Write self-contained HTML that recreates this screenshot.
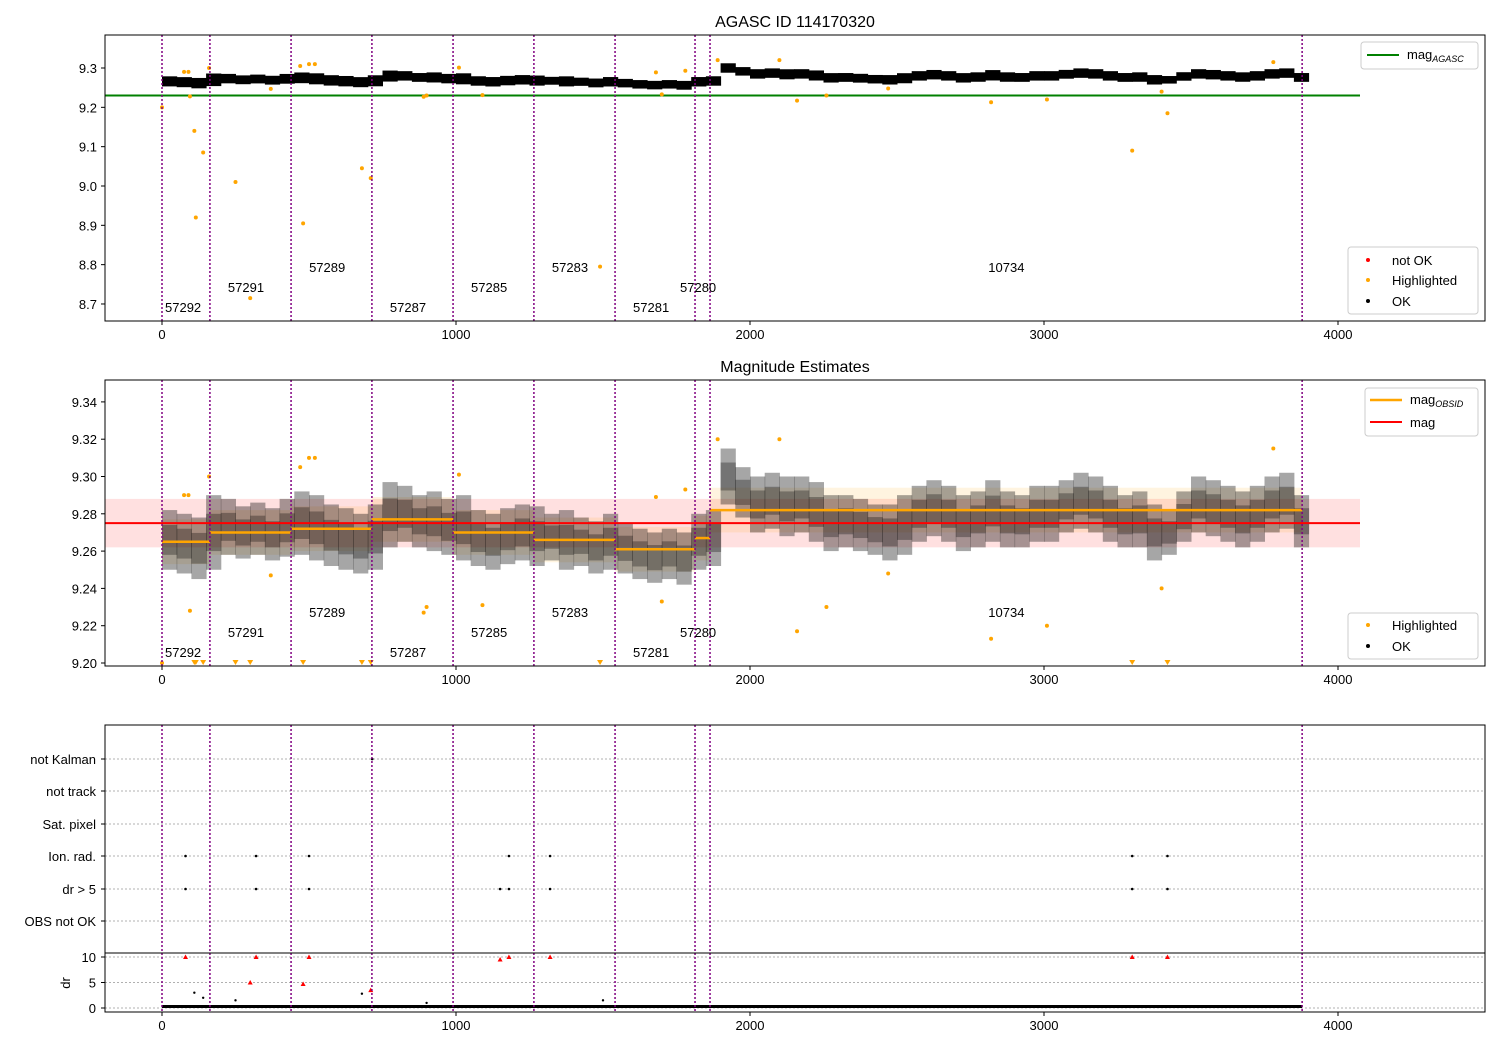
<!DOCTYPE html>
<html><head><meta charset="utf-8">
<style>
body{margin:0;background:#fff;}
svg{display:block;font-family:"Liberation Sans","DejaVu Sans",sans-serif;}
</style></head>
<body>
<svg id="chart" width="1500" height="1050" viewBox="0 0 1500 1050" xmlns="http://www.w3.org/2000/svg"></svg>
<script>
// ---------- data ----------
const sampleStep = 50;
const magLo = [9.250,9.248,9.245,9.250, 9.258,9.256,9.258,9.255,9.257, 9.258,9.255,9.252,9.250,9.248,9.250,
 9.262,9.265,9.262,9.260,9.258, 9.255,9.252,9.250,9.253,9.255,9.252, 9.255,9.250,9.252,9.248,9.250,
 9.248,9.245,9.243,9.245,9.242,9.250, 9.252,
 9.285,9.278,9.270,9.272,9.268,9.270,9.265,9.260,9.262,9.260,9.258,9.255,9.258,9.265,9.268,9.265,9.260,9.262,9.265,9.262,
 9.262,9.265,9.265,9.270,9.272,9.270,9.265,9.262,9.262,9.255,9.258,9.265,9.270,9.268,9.265,9.262,9.265,9.270,9.272,9.262];
const magHi = [9.282,9.280,9.278,9.290, 9.288,9.284,9.286,9.283,9.288, 9.292,9.290,9.285,9.283,9.280,9.285,
 9.297,9.295,9.290,9.292,9.288, 9.290,9.282,9.280,9.283,9.285,9.284, 9.280,9.282,9.278,9.276,9.280,
 9.275,9.272,9.270,9.272,9.270,9.280, 9.282,
 9.315,9.305,9.300,9.302,9.300,9.300,9.297,9.290,9.290,9.288,9.285,9.285,9.290,9.295,9.298,9.295,9.290,9.292,9.298,9.292,
 9.290,9.295,9.295,9.298,9.302,9.300,9.295,9.290,9.292,9.285,9.282,9.292,9.300,9.298,9.295,9.292,9.295,9.300,9.302,9.290];
const obsids = ["57292","57291","57289","57287","57285","57283","57281","57280","10734"];
const obsStart = [0,163,439,714,990,1265,1541,1813,1864];
const obsEnd = [163,439,714,990,1265,1541,1813,1864,3878];
const obsMean = [9.265,9.270,9.272,9.277,9.270,9.266,9.261,9.267,9.282];
const magAgasc = 9.23;
const magAll = 9.275, magAllErr = 0.013;
const hiT = [0,75,90,95,110,115,140,160,250,300,370,470,480,500,520,680,710,890,900,1010,1090,1490,1680,1700,1780,1890,2100,2160,2260,2470,2820,3010,3300,3400,3420,3780];
const hiMag = [9.20,9.29,9.29,9.228,9.14,8.92,9.085,9.30,9.01,8.715,9.247,9.305,8.905,9.31,9.31,9.045,9.02,9.227,9.23,9.301,9.231,8.795,9.289,9.233,9.293,9.32,9.32,9.217,9.23,9.248,9.213,9.22,9.09,9.24,9.185,9.315];
const flagCats = ["not Kalman","not track","Sat. pixel","Ion. rad.","dr > 5","OBS not OK"];
const ionT = [80,320,500,1180,1320,3300,3420];
const dr5T = [80,320,500,1150,1180,1320,3300,3420];
const kalT = [715];
const drRedT = [80,300,320,480,500,710,1150,1180,1320,3300,3420];
const drRedV = [10,5,10,4.7,10,3.5,9.5,10,10,10,10];
const drBlkT = [110,140,250,680,900,1500];
const drBlkV = [3,2,1.5,2.8,1.0,1.5];
const drBase = 0.3;
const xTicks = [0,1000,2000,3000,4000];
const y1Ticks = [8.7,8.8,8.9,9.0,9.1,9.2,9.3];
const y2Ticks = [9.20,9.22,9.24,9.26,9.28,9.30,9.32,9.34];
const drTicks = [0,5,10];

// ---------- helpers ----------
const svg = document.getElementById('chart');
const NS = 'http://www.w3.org/2000/svg';
function el(tag, attrs, parent){const e=document.createElementNS(NS,tag);for(const k in attrs)e.setAttribute(k,attrs[k]);(parent||svg).appendChild(e);return e;}
function txt(x,y,s,attrs,parent){const e=el('text',Object.assign({x:x,y:y,'font-size':13,fill:'#000'},attrs||{}),parent);e.textContent=s;return e;}
const X = v => 162 + v*0.294;
const L = 105, R = 1485;
const Y1 = v => 68 + (9.3 - v)*393.3;
const Y2 = v => 663 - (v - 9.20)*1865;
const catY = [759,791,824,856,889,921];
const Ydr = v => 1008 - v*5.1;

function clip(id,y0,y1){const c=el('clipPath',{id:id});el('rect',{x:L,y:y0,width:R-L,height:y1-y0},c);}
clip('c1',35,321);clip('c2',380,666);clip('c3',725,1012);

function xAxis(yb){
  xTicks.forEach(v=>{
    const t=el('line',{x1:X(v),x2:X(v),y1:yb,y2:yb+4,stroke:'#000'});
    
    const l=txt(X(v),yb+18,String(v),{'text-anchor':'middle'});
    
  });
}
function vlines(g,y0,y1){
  obsStart.concat([obsEnd[obsEnd.length-1]]).forEach(v=>{
    const l=el('line',{x1:X(v),x2:X(v),y1:y0,y2:y1,stroke:'#800080','stroke-width':1.5,'stroke-dasharray':'2,2'},g);
    
  });
}
const labDy=[0,-20,-40,0,-20,-40,0,-20,-40];
function obsLabels(g,yBase){
  obsids.forEach((o,i)=>{
    let xs;
    if(i==0) xs=X(obsStart[i])+3;
    else if(i==7) xs=X(obsStart[i])-15;
    else if(i==8) xs=X(obsStart[i]+(obsEnd[i]-obsStart[i])*0.47);
    else xs=X(obsStart[i])+18;
    const l=txt(xs,yBase+labDy[i],o,{},g);
    
  });
}

// ---------- panel 1 ----------
txt(795,27,'AGASC ID 114170320',{'text-anchor':'middle','font-size':16});
const g1=el('g',{'clip-path':'url(#c1)'});
const ga=el('line',{x1:L,x2:1360,y1:Y1(magAgasc),y2:Y1(magAgasc),stroke:'#008000','stroke-width':2},g1);

magLo.forEach((lo,i)=>{
  const m=(lo+magHi[i])/2, h=(magHi[i]-lo)*0.4;
  const r=el('rect',{x:X(i*sampleStep),width:X(sampleStep)-X(0)+0.5,y:Y1(m+h),height:Y1(m-h)-Y1(m+h),fill:'#000'},g1);
  
});
hiT.forEach((t,i)=>{
  const c=el('circle',{cx:X(t),cy:Y1(hiMag[i]),r:2,fill:'orange'},g1);
  
});
vlines(g1,35,321);obsLabels(g1,312);
el('rect',{x:L,y:35,width:R-L,height:286,fill:'none',stroke:'#000'});
y1Ticks.forEach(v=>{el('line',{x1:L-4,x2:L,y1:Y1(v),y2:Y1(v),stroke:'#000'});
  const l=txt(L-8,Y1(v)+5,v.toFixed(1),{'text-anchor':'end'});});
xAxis(321);
const lg1=el('g',{});
el('rect',{x:1361,y:42,width:117,height:27,fill:'#fff',stroke:'#ccc',rx:3},lg1);
el('line',{x1:1367,x2:1399,y1:55,y2:55,stroke:'#008000','stroke-width':2},lg1);
const t1=txt(1407,59,'mag',{},lg1);const s1=el('tspan',{'font-size':9,dy:3,'font-style':'italic'},t1);s1.textContent='AGASC';
const lg2=el('g',{});
el('rect',{x:1348,y:247,width:130,height:67,fill:'#fff',stroke:'#ccc',rx:3},lg2);
[['red','not OK',260],['orange','Highlighted',280],['#000','OK',301]].forEach(a=>{el('circle',{cx:1368,cy:a[2],r:2,fill:a[0]},lg2);txt(1392,a[2]+5,a[1],{},lg2);});

// ---------- panel 2 ----------
txt(795,372,'Magnitude Estimates',{'text-anchor':'middle','font-size':16});
const g2=el('g',{'clip-path':'url(#c2)'});
const band=el('rect',{x:L,width:1360-L,y:Y2(magAll+magAllErr),height:Y2(magAll-magAllErr)-Y2(magAll+magAllErr),fill:'#ff0000','fill-opacity':0.12},g2);

obsMean.forEach((m,i)=>{
  const b=el('rect',{x:X(obsStart[i]),width:X(obsEnd[i])-X(obsStart[i]),y:Y2(m+0.012),height:Y2(m-0.012)-Y2(m+0.012),fill:'orange','fill-opacity':0.12},g2);
  
});
magLo.forEach((lo,i)=>{
  const m=(lo+magHi[i])/2, h=(magHi[i]-lo)/2;
  const r=el('rect',{x:X(i*sampleStep),width:X(sampleStep)-X(0)+0.5,y:Y2(m+h),height:Y2(m-h)-Y2(m+h),fill:'#000','fill-opacity':0.35},g2);
  
  const r2=el('rect',{x:X(i*sampleStep),width:X(sampleStep)-X(0)+0.5,y:Y2(m+h*0.5),height:Y2(m-h*0.5)-Y2(m+h*0.5),fill:'#000','fill-opacity':0.3},g2);
  
});
obsMean.forEach((m,i)=>{
  const l=el('line',{x1:X(obsStart[i]),x2:X(obsEnd[i]),y1:Y2(m),y2:Y2(m),stroke:'orange','stroke-width':2.5},g2);
  
});
const rl=el('line',{x1:L,x2:1360,y1:Y2(magAll),y2:Y2(magAll),stroke:'red','stroke-width':2},g2);

hiT.forEach((t,i)=>{
  const v=hiMag[i];
  if(v<9.2){const x=X(t),y=Y2(9.2);
    const p=el('path',{d:`M${x-3},${y-3}L${x+3},${y-3}L${x},${y+2}Z`,fill:'orange'},g2);
    }
  else{const c=el('circle',{cx:X(t),cy:Y2(v),r:2,fill:'orange'},g2);
    }
});
vlines(g2,380,666);obsLabels(g2,657);
el('rect',{x:L,y:380,width:R-L,height:286,fill:'none',stroke:'#000'});
y2Ticks.forEach(v=>{el('line',{x1:L-4,x2:L,y1:Y2(v),y2:Y2(v),stroke:'#000'});
  const l=txt(L-8,Y2(v)+5,v.toFixed(2),{'text-anchor':'end'});});
xAxis(666);
const lg3=el('g',{});
el('rect',{x:1365,y:388,width:113,height:48,fill:'#fff',stroke:'#ccc',rx:3},lg3);
el('line',{x1:1370,x2:1402,y1:400,y2:400,stroke:'orange','stroke-width':2.5},lg3);
const t3=txt(1410,404,'mag',{},lg3);const s3=el('tspan',{'font-size':9,dy:3,'font-style':'italic'},t3);s3.textContent='OBSID';
el('line',{x1:1370,x2:1402,y1:422,y2:422,stroke:'red','stroke-width':2},lg3);txt(1410,427,'mag',{},lg3);
const lg4=el('g',{});
el('rect',{x:1348,y:613,width:130,height:46,fill:'#fff',stroke:'#ccc',rx:3},lg4);
[['orange','Highlighted',625],['#000','OK',646]].forEach(a=>{el('circle',{cx:1368,cy:a[2],r:2,fill:a[0]},lg4);txt(1392,a[2]+5,a[1],{},lg4);});

// ---------- panel 3 ----------
const g3=el('g',{'clip-path':'url(#c3)'});
flagCats.forEach((c,i)=>{
  el('line',{x1:L,x2:R,y1:catY[i],y2:catY[i],stroke:'#b0b0b0','stroke-dasharray':'2,2'},g3);
  const l=txt(L-9,catY[i]+5,c,{'text-anchor':'end'});
  el('line',{x1:L-4,x2:L,y1:catY[i],y2:catY[i],stroke:'#000'});
});
[[kalT,0],[ionT,3],[dr5T,4]].forEach(a=>a[0].forEach(t=>{
  const c=el('circle',{cx:X(t),cy:catY[a[1]],r:1.3,fill:'#000'},g3);
  
}));
drTicks.forEach(v=>{el('line',{x1:L,x2:R,y1:Ydr(v),y2:Ydr(v),stroke:'#b0b0b0','stroke-dasharray':'2,2'},g3);
  el('line',{x1:L-4,x2:L,y1:Ydr(v),y2:Ydr(v),stroke:'#000'});
  const l=txt(L-9,Ydr(v)+5,String(v),{'text-anchor':'end'});});
const db=el('line',{x1:X(0),x2:X(obsEnd[8]),y1:Ydr(drBase),y2:Ydr(drBase),stroke:'#000','stroke-width':3},g3);

drBlkT.forEach((t,i)=>{const c=el('circle',{cx:X(t),cy:Ydr(drBlkV[i]),r:1.2,fill:'#000'},g3);
  });
drRedT.forEach((t,i)=>{const x=X(t),y=Ydr(drRedV[i]);
  const p=el('path',{d:`M${x-2.5},${y+2}L${x+2.5},${y+2}L${x},${y-2.5}Z`,fill:'red'},g3);
  });
vlines(g3,725,1012);
el('line',{x1:L,x2:R,y1:953,y2:953,stroke:'#000'});
el('rect',{x:L,y:725,width:R-L,height:287,fill:'none',stroke:'#000'});
const dl=txt(70,983,'dr',{'text-anchor':'middle',transform:'rotate(-90 70 983)'});
xAxis(1012);
</script>
</body></html>
